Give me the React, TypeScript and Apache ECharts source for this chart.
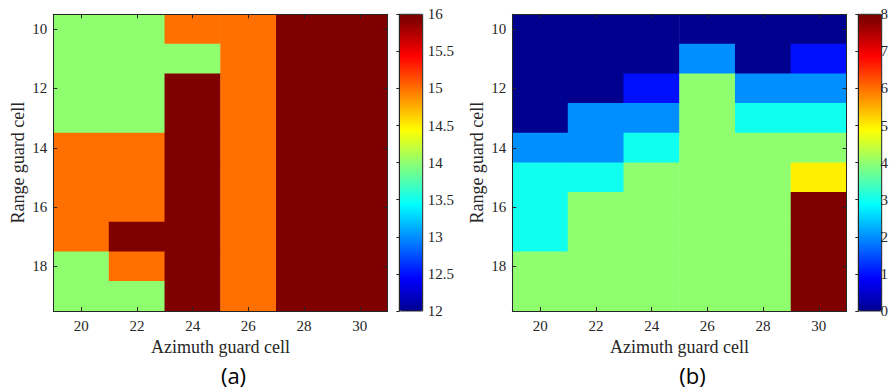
import React, { useEffect, useRef } from "react";
import * as echarts from "echarts";

const xCats = ["20", "22", "24", "26", "28", "30"];
const yCats = ["10", "11", "12", "13", "14", "15", "16", "17", "18", "19"];

// rows: y = 10..19, columns: x = 20,22,...,30
const valuesA: number[][] = [
  [14, 14, 15, 15, 16, 16],
  [14, 14, 14, 15, 16, 16],
  [14, 14, 16, 15, 16, 16],
  [14, 14, 16, 15, 16, 16],
  [15, 15, 16, 15, 16, 16],
  [15, 15, 16, 15, 16, 16],
  [15, 15, 16, 15, 16, 16],
  [15, 16, 16, 15, 16, 16],
  [14, 15, 16, 15, 16, 16],
  [14, 14, 16, 15, 16, 16],
];

const valuesB: number[][] = [
  [0, 0, 0, 0, 0, 0],
  [0, 0, 0, 2, 0, 1],
  [0, 0, 1, 4, 2, 2],
  [0, 2, 2, 4, 3, 3],
  [2, 2, 3, 4, 4, 4],
  [3, 3, 4, 4, 4, 5],
  [3, 4, 4, 4, 4, 8],
  [3, 4, 4, 4, 4, 8],
  [4, 4, 4, 4, 4, 8],
  [4, 4, 4, 4, 4, 8],
];

const rangeA = [12, 16];
const rangeB = [0, 8];
const xTitle = "Azimuth guard cell";
const yTitle = "Range guard cell";
const captions = ["(a)", "(b)"];

// MATLAB jet(64) colormap
function jetRow(i: number): string {
  let r = 0, g = 0, b = 0;
  if (i <= 8) { b = 0.5 + i / 16; }
  else if (i <= 24) { g = (i - 8) / 16; b = 1; }
  else if (i <= 40) { r = (i - 24) / 16; g = 1; b = 1 - (i - 24) / 16; }
  else if (i <= 56) { r = 1; g = 1 - (i - 40) / 16; }
  else { r = 1 - (i - 56) / 16; }
  const h = (v: number) => Math.round(v * 255).toString(16).padStart(2, "0");
  return "#" + h(r) + h(g) + h(b);
}
const jetColors: string[] = [];
for (let k = 0; k <= 64; k++) jetColors.push(jetRow(Math.min(k + 1, 64)));

function toHeat(m: number[][]) {
  const out: number[][] = [];
  m.forEach((row, yi) => row.forEach((v, xi) => out.push([xi, yi, v])));
  return out;
}

const AX = "#262626";
const SERIF = "'Liberation Serif', 'Times New Roman', serif";
const GT = 14.3;
const GH = 296.7;
const GW = 334.4;
const plotLefts = [53.3, 512.3];
const cbLefts = [399.3, 858.3];
const CBW = 23.4;

export default function App() {
  const ref = useRef<HTMLDivElement>(null);
  useEffect(() => {
    if (!ref.current) return;
    const chart = echarts.init(ref.current, null, { renderer: "svg" });
    const grids: any[] = [];
    const xAxes: any[] = [];
    const yAxes: any[] = [];
    plotLefts.forEach((l) => grids.push({ left: l, top: GT, width: GW, height: GH }));
    cbLefts.forEach((l) => grids.push({ left: l, top: GT, width: CBW, height: GH }));

    const lineStyle = { color: AX, width: 1 };
    [0, 1].forEach((gi) => {
      xAxes.push({
        type: "category", gridIndex: gi, data: xCats, position: "bottom", z: 10,
        axisLine: { show: true, lineStyle, onZero: false },
        axisTick: { show: true, inside: true, alignWithLabel: true, length: 4, lineStyle },
        axisLabel: { show: true, color: AX, fontFamily: SERIF, fontSize: 15, margin: 7 },
        name: xTitle, nameLocation: "middle", nameGap: 27,
        nameTextStyle: { color: AX, fontFamily: SERIF, fontSize: 18 },
        splitLine: { show: false },
      });
      xAxes.push({
        type: "category", gridIndex: gi, data: xCats, position: "top", z: 10,
        axisLine: { show: true, lineStyle, onZero: false },
        axisTick: { show: true, inside: true, alignWithLabel: true, length: 4, lineStyle },
        axisLabel: { show: false },
        splitLine: { show: false },
      });
      yAxes.push({
        type: "category", gridIndex: gi, data: yCats, inverse: true, position: "left", z: 10,
        axisLine: { show: true, lineStyle, onZero: false },
        axisTick: { show: true, inside: true, alignWithLabel: true, interval: 1, length: 4, lineStyle },
        axisLabel: { show: true, interval: 1, color: AX, fontFamily: SERIF, fontSize: 15, margin: 6 },
        name: yTitle, nameLocation: "middle", nameGap: 26,
        nameTextStyle: { color: AX, fontFamily: SERIF, fontSize: 18 },
        splitLine: { show: false },
      });
      yAxes.push({
        type: "category", gridIndex: gi, data: yCats, inverse: true, position: "right", z: 10,
        axisLine: { show: true, lineStyle, onZero: false },
        axisTick: { show: true, inside: true, alignWithLabel: true, interval: 1, length: 4, lineStyle },
        axisLabel: { show: false },
        splitLine: { show: false },
      });
    });
    const cbRanges = [rangeA, rangeB];
    const cbIntervals = [0.5, 1];
    [0, 1].forEach((ci) => {
      xAxes.push({ type: "value", gridIndex: 2 + ci, show: false, min: 0, max: 1 });
      yAxes.push({
        type: "value", gridIndex: 2 + ci, position: "right", z: 10,
        min: cbRanges[ci][0], max: cbRanges[ci][1], interval: cbIntervals[ci],
        axisLine: { show: true, lineStyle },
        axisTick: { show: true, inside: true, length: 3, lineStyle },
        axisLabel: { show: true, color: AX, fontFamily: SERIF, fontSize: 15, margin: 5 },
        splitLine: { show: false },
      });
    });

    const graphic: any[] = [];
    cbLefts.forEach((l) =>
      graphic.push({
        type: "rect", z: 100, silent: true,
        shape: { x: l, y: GT, width: CBW, height: GH },
        style: { fill: "none", stroke: AX, lineWidth: 1 },
      })
    );
    captions.forEach((c, i) =>
      graphic.push({
        type: "text", z: 100,
        x: plotLefts[i] + GW / 2 + 13, y: 375,
        style: {
          text: c, fill: "#000", fontFamily: "'Open Sans', 'Liberation Sans', sans-serif", fontSize: 22,
          textAlign: "center", textVerticalAlign: "middle",
        },
      })
    );

    chart.setOption({
      animation: false,
      grid: grids,
      xAxis: xAxes,
      yAxis: yAxes,
      visualMap: [0, 1].map((ci) => ({
        type: "continuous", seriesIndex: ci,
        min: cbRanges[ci][0], max: cbRanges[ci][1],
        calculable: false, orient: "vertical",
        left: cbLefts[ci], top: GT, padding: 0,
        itemWidth: CBW, itemHeight: GH,
        inRange: { color: jetColors },
        text: null, showLabel: false,
      })),
      series: [
        { type: "heatmap", xAxisIndex: 0, yAxisIndex: 0, data: toHeat(valuesA), itemStyle: { borderWidth: 0 } },
        { type: "heatmap", xAxisIndex: 2, yAxisIndex: 2, data: toHeat(valuesB), itemStyle: { borderWidth: 0 } },
      ],
      graphic,
    });
    return () => chart.dispose();
  }, []);
  return (
    <div
      ref={ref}
      style={{ position: "fixed", left: 0, top: 0, width: 891, height: 389, background: "#fff" }}
    />
  );
}
